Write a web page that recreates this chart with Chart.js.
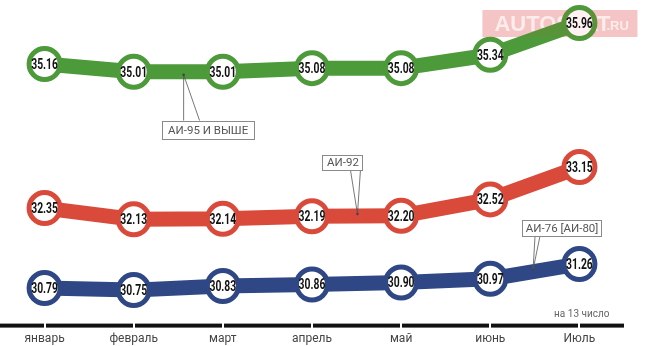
<!DOCTYPE html>
<html>
<head>
<meta charset="utf-8">
<script src="https://cdn.jsdelivr.net/npm/chart.js@4/dist/chart.umd.min.js"></script>
<style>
  html, body { margin: 0; padding: 0; background: #ffffff; overflow: hidden; }
  #wrap { width: 646px; height: 346px; position: relative; overflow: hidden; }
  #c { display: block; }
</style>
</head>
<body>
<div id="wrap"><canvas id="c" width="646" height="353"></canvas></div>
<script>
// ---- data ----
const months = ["январь", "февраль", "март", "апрель", "май", "июнь", "Июль"];
const ai95 = [35.16, 35.01, 35.01, 35.08, 35.08, 35.34, 35.96];
const ai92 = [32.35, 32.13, 32.14, 32.19, 32.20, 32.52, 33.15];
const ai76 = [30.79, 30.75, 30.83, 30.86, 30.90, 30.97, 31.26];
const seriesNames = ["АИ-95 И ВЫШЕ", "АИ-92", "АИ-76 [АИ-80]"];
const noteText = "на 13 число";

const GREEN = "#4c9a39";
const RED = "#d94a3b";
const BLUE = "#2f4885";

function ds(label, data, color) {
  return {
    label, data,
    borderColor: color,
    backgroundColor: color,
    borderWidth: 15,
    borderJoinStyle: "round",
    tension: 0,
    pointRadius: 15.5,
    pointHoverRadius: 15.5,
    pointBorderWidth: 5,
    pointBackgroundColor: "#ffffff",
    pointBorderColor: color
  };
}

// callouts: anchor at fractional category index on a series; box placement relative to anchor (px)
const callouts = [
  { series: 0, at: 1.56, dy: 3, boxLeft: -22, boxTop: 46, w: 92, h: 18, legs: [0, 16] },
  { series: 1, at: 3.51, dy: -2, boxLeft: -35, boxTop: -59, w: 40, h: 15, legs: [-7, 3] },
  { series: 2, at: 5.48, dy: -2, boxLeft: -11, boxTop: -50, w: 79, h: 16, legs: [2, 7] }
];

function watermarkPos(chart) {
  const xs = chart.scales.x;
  return { wx: xs.getPixelForValue(months.length - 1) - 97, wy: 10, w: 155, h: 27 };
}

const overlay = {
  id: "overlay",
  beforeDatasetsDraw(chart) {
    const ctx = chart.ctx;
    const { wx, wy, w, h } = watermarkPos(chart);
    ctx.save();
    ctx.globalAlpha = 0.28;
    ctx.fillStyle = "#e0504f";
    ctx.fillRect(wx, wy, w, h);
    ctx.globalAlpha = 0.9;
    ctx.fillStyle = "#ffffff";
    ctx.font = "bold 22px 'Liberation Sans', Arial, sans-serif";
    ctx.textAlign = "left";
    ctx.textBaseline = "alphabetic";
    ctx.fillText("AUTOSTAT", wx + 12, wy + 21);
    ctx.font = "bold 13px 'Liberation Sans', Arial, sans-serif";
    ctx.fillText(".RU", wx + 124, wy + 20);
    ctx.restore();
  },
  afterDatasetsDraw(chart) {
    const ctx = chart.ctx;
    const xs = chart.scales.x, ys = chart.scales.y;
    const area = chart.chartArea;

    // light tint of the watermark over the marks
    const wm = watermarkPos(chart);
    ctx.save();
    ctx.globalAlpha = 0.08;
    ctx.fillStyle = "#e0504f";
    ctx.fillRect(wm.wx, wm.wy, wm.w, wm.h);
    ctx.restore();

    // value labels (condensed via horizontal scaling)
    ctx.save();
    ctx.font = "bold 14px Roboto, 'DejaVu Sans', sans-serif";
    ctx.fillStyle = "#111111";
    ctx.textAlign = "center";
    ctx.textBaseline = "middle";
    chart.data.datasets.forEach((d, i) => {
      chart.getDatasetMeta(i).data.forEach((pt, j) => {
        ctx.save();
        ctx.translate(pt.x, pt.y + 1);
        ctx.scale(0.74, 1.1);
        ctx.fillText(d.data[j].toFixed(2), 0, 0);
        ctx.restore();
      });
    });
    ctx.restore();

    // callouts
    ctx.save();
    callouts.forEach(c => {
      const data = chart.data.datasets[c.series].data;
      const i0 = Math.floor(c.at), f = c.at - i0;
      const v = data[i0] + (data[i0 + 1] - data[i0]) * f;
      const ax = xs.getPixelForValue(c.at);
      const ay = ys.getPixelForValue(v) + c.dy;
      const boxLeft = ax + c.boxLeft, boxTop = ay + c.boxTop;
      const legY = c.boxTop > 0 ? boxTop : boxTop + c.h;
      ctx.strokeStyle = "#555555";
      ctx.lineWidth = 0.8;
      ctx.beginPath();
      c.legs.forEach(l => {
        ctx.moveTo(ax, ay);
        ctx.lineTo(ax + l, legY);
      });
      ctx.stroke();
      ctx.fillStyle = "#444";
      ctx.beginPath(); ctx.arc(ax, ay, 1.3, 0, Math.PI * 2); ctx.fill();
      ctx.fillStyle = "#ffffff";
      ctx.fillRect(boxLeft, boxTop, c.w, c.h);
      ctx.strokeStyle = "#8a8a8a";
      ctx.lineWidth = 1;
      ctx.strokeRect(Math.round(boxLeft) + 0.5, Math.round(boxTop) + 0.5, c.w, c.h);
      ctx.fillStyle = "#555555";
      ctx.font = "11.5px Roboto, 'Open Sans', sans-serif";
      ctx.textAlign = "center";
      ctx.textBaseline = "middle";
      ctx.fillText(seriesNames[c.series], boxLeft + c.w / 2 + 0.5, boxTop + c.h / 2 + 1);
    });
    ctx.restore();

    // axis bar with gaps at ticks
    ctx.save();
    const yb = area.bottom;
    ctx.fillStyle = "#111111";
    ctx.fillRect(area.left, yb - 2, area.right - area.left, 4);
    ctx.fillStyle = "#ffffff";
    months.forEach((m, i) => {
      const x = xs.getPixelForValue(i);
      ctx.fillRect(Math.round(x) - 1, yb - 3, 2, 6);
    });
    // note
    ctx.fillStyle = "#666666";
    ctx.font = "10px Roboto, 'Open Sans', sans-serif";
    ctx.textAlign = "right";
    ctx.textBaseline = "middle";
    ctx.fillText(noteText, xs.getPixelForValue(months.length - 1) + 30, yb - 11);
    ctx.restore();
  }
};

new Chart(document.getElementById("c"), {
  type: "line",
  data: {
    labels: months,
    datasets: [ds(seriesNames[0], ai95, GREEN), ds(seriesNames[1], ai92, RED), ds(seriesNames[2], ai76, BLUE)]
  },
  options: {
    responsive: false,
    animation: false,
    events: [],
    layout: { autoPadding: false, padding: { left: 0, right: 22, top: 0, bottom: 0 } },
    plugins: { legend: { display: false }, tooltip: { enabled: false } },
    scales: {
      x: {
        type: "category",
        offset: true,
        grid: { display: false, drawTicks: false },
        border: { display: false },
        ticks: {
          color: "#444444",
          padding: 6.5,
          font: { family: "Roboto, 'Open Sans', sans-serif", size: 12 },
          maxRotation: 0,
          autoSkip: false
        }
      },
      y: {
        display: false,
        min: 30.058,
        max: 36.409
      }
    }
  },
  plugins: [overlay]
});
</script>
</body>
</html>
